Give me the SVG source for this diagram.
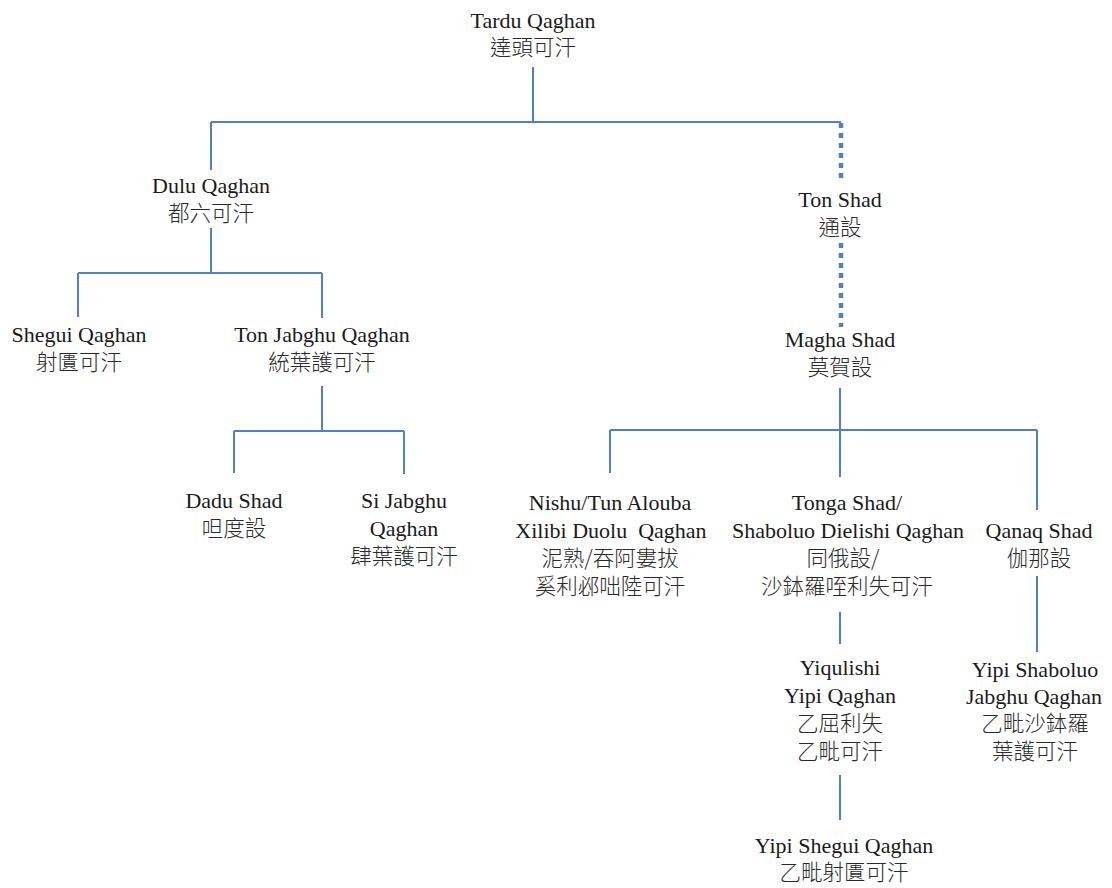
<svg xmlns="http://www.w3.org/2000/svg" width="1112" height="888" viewBox="0 0 1112 888">
<style>
text{font-family:"Liberation Serif","Noto Sans CJK TC",serif;font-size:22px;fill:#1a1a1a;text-anchor:middle}
text.c{font-family:"Noto Sans CJK TC","Liberation Serif",sans-serif;font-size:21.5px;font-weight:300;fill:#2a2a2a}
.ln{stroke:#4F81BD;stroke-width:2;fill:none}
.dash{stroke:#4F81BD;stroke-width:4.5;fill:none;stroke-dasharray:5 5}
</style>
<rect width="1112" height="888" fill="#ffffff"/>
<g id="connectors">
<path class="ln" d="M533 67V122M211 122H841M211 122V170"/>
<path class="dash" d="M841 123V183M841 243V327"/>
<path class="ln" d="M211 228V273M78 273H322M78 273V317M322 273V318"/>
<path class="ln" d="M322 386V431M234 431H404M234 431V473M404 431V474"/>
<path class="ln" d="M840 388V430M610 430H1037M610 430V473M840 430V477M1037 430V510"/>
<path class="ln" d="M840 612V644M840 775V820M1037 576V652"/>
</g>
<g id="tardu"><text x="533" y="28">Tardu Qaghan</text><text class="c" x="533" y="55">達頭可汗</text></g>
<g id="dulu"><text x="211" y="193">Dulu Qaghan</text><text class="c" x="211" y="221">都六可汗</text></g>
<g id="tonshad"><text x="840" y="207">Ton Shad</text><text class="c" x="840" y="235">通設</text></g>
<g id="shegui"><text x="79" y="342">Shegui Qaghan</text><text class="c" x="79" y="370">射匱可汗</text></g>
<g id="tonjabghu"><text x="322" y="342">Ton Jabghu Qaghan</text><text class="c" x="322" y="370">統葉護可汗</text></g>
<g id="magha"><text x="840" y="347">Magha Shad</text><text class="c" x="840" y="375">莫賀設</text></g>
<g id="dadu"><text x="234" y="508">Dadu Shad</text><text class="c" x="234" y="536">呾度設</text></g>
<g id="sijabghu"><text x="404" y="508">Si Jabghu</text><text x="404" y="536">Qaghan</text><text class="c" x="404" y="564">肆葉護可汗</text></g>
<g id="nishu"><text x="610" y="510">Nishu/Tun Alouba</text><text x="611" y="538" xml:space="preserve">Xilibi Duolu  Qaghan</text><text class="c" x="610" y="566">泥熟/吞阿婁拔</text><text class="c" x="610" y="594">奚利邲咄陸可汗</text></g>
<g id="tonga"><text x="847" y="510">Tonga Shad/</text><text x="848" y="538">Shaboluo Dielishi Qaghan</text><text class="c" x="843" y="566">同俄設/</text><text class="c" x="847" y="594">沙鉢羅咥利失可汗</text></g>
<g id="qanaq"><text x="1039" y="538">Qanaq Shad</text><text class="c" x="1039" y="566">伽那設</text></g>
<g id="yiqulishi"><text x="840" y="675">Yiqulishi</text><text x="840" y="703">Yipi Qaghan</text><text class="c" x="840" y="731">乙屈利失</text><text class="c" x="840" y="759">乙毗可汗</text></g>
<g id="yipishaboluo"><text x="1035" y="677">Yipi Shaboluo</text><text x="1034" y="704">Jabghu Qaghan</text><text class="c" x="1035" y="731">乙毗沙鉢羅</text><text class="c" x="1035" y="759">葉護可汗</text></g>
<g id="yipishegui"><text x="844" y="853">Yipi Shegui Qaghan</text><text class="c" x="844" y="880">乙毗射匱可汗</text></g>
</svg>
